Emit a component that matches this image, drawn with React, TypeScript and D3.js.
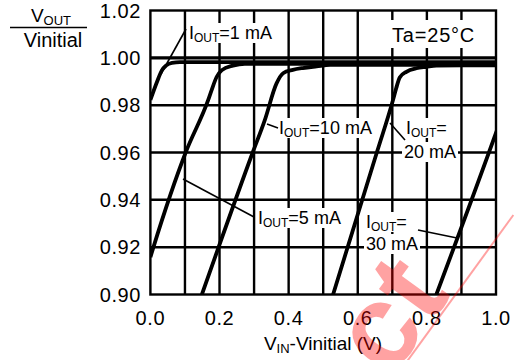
import React from "react";
import * as d3 from "d3";

// ---- data ----
const xTickValues = [0, 0.2, 0.4, 0.6, 0.8, 1.0];
const xTickLabels = ["0.0", "0.2", "0.4", "0.6", "0.8", "1.0"];
const yTickValues = [0.9, 0.92, 0.94, 0.96, 0.98, 1.0, 1.02];
const yTickLabels = ["0.90", "0.92", "0.94", "0.96", "0.98", "1.00", "1.02"];
const xGrid = [0.1, 0.2, 0.3, 0.4, 0.5, 0.6, 0.7, 0.8, 0.9];
const yGrid = [0.92, 0.94, 0.96, 0.98, 1.0];

const curve1mA: [number, number][] = [
  [0, 0.9822], [0.019, 0.9898], [0.0335, 0.9948], [0.045, 0.9967],
  [0.0624, 0.9979], [0.0856, 0.9982], [0.3, 0.9982], [1.0, 0.9982],
];
const curve5mA: [number, number][] = [
  [0, 0.9158], [0.0084, 0.9198], [0.1029, 0.9603], [0.1673, 0.9822],
  [0.1772, 0.9864], [0.1916, 0.9919], [0.2069, 0.9948], [0.2387, 0.9967],
  [0.2734, 0.9975], [0.4, 0.9975], [1.0, 0.9975],
];
const curve10mA: [number, number][] = [
  [0.149, 0.9], [0.2965, 0.9602], [0.331, 0.9737], [0.365, 0.9892],
  [0.384, 0.9935], [0.412, 0.9949], [0.441, 0.9957], [0.481, 0.9964],
  [0.52, 0.997], [0.7, 0.997], [1.0, 0.997],
];
const curve20mA: [number, number][] = [
  [0.5286, 0.9], [0.6558, 0.9603], [0.702, 0.9822], [0.7113, 0.9872],
  [0.7214, 0.9917], [0.7408, 0.9941], [0.7697, 0.9956], [0.7986, 0.9962],
  [0.8275, 0.9967], [0.9, 0.9968], [1.0, 0.9968],
];
const curve30mA: [number, number][] = [
  [0.8275, 0.9], [0.996, 0.9667], [1.02, 0.9765],
];
const seriesList = [curve1mA, curve5mA, curve10mA, curve20mA, curve30mA];

// ---- layout ----
const W = 514, H = 360;
const x = d3.scaleLinear().domain([0, 1]).range([150.4, 496]);
const y = d3.scaleLinear().domain([0.9, 1.02]).range([294.5, 10.5]);
const FONT = "'Liberation Sans', Arial, Helvetica, sans-serif";

const line = d3
  .line<[number, number]>()
  .x((d) => x(d[0]))
  .y((d) => y(d[1]))
  .curve(d3.curveMonotoneX);

type Lbl = { x: number; y: number; main: string; rest: string; bw: number };
const labels: Lbl[] = [
  { x: 189, y: 39, main: "I", rest: "=1 mA", bw: 92 },
  { x: 279, y: 134, main: "I", rest: "=10 mA", bw: 92 },
  { x: 406, y: 134, main: "I", rest: "=", bw: 56 },
  { x: 258, y: 224, main: "I", rest: "=5 mA", bw: 82 },
  { x: 366, y: 228, main: "I", rest: "=", bw: 56 },
];
const plainLabels = [
  { x: 404, y: 158, text: "20 mA", bw: 56 },
  { x: 366, y: 250, text: "30 mA", bw: 56 },
];
const leaders = [
  [186, 29, 161, 74],
  [267, 124, 278, 128],
  [390, 123, 405, 140],
  [183, 179, 254, 217],
  [418, 230, 457, 238],
];

export default function App() {
  const [x0, x1] = x.range();
  const [yb, yt] = y.range();
  return (
    <svg
      width={W}
      height={H}
      style={{ position: "absolute", left: 0, top: 0, background: "#fff" }}
      fontFamily={FONT}
    >
      <defs>
        <clipPath id="plot">
          <rect x={x0} y={yt} width={x1 - x0} height={yb - yt} />
        </clipPath>
      </defs>
      <rect width={W} height={H} fill="#fff" />
      {/* grid */}
      {xGrid.map((v) => (
        <line key={"vx" + v} x1={x(v)} x2={x(v)} y1={yt} y2={yb} stroke="#000" strokeWidth={2.4} />
      ))}
      {yGrid.map((v) => (
        <line key={"hy" + v} x1={x0} x2={x1} y1={y(v)} y2={y(v)} stroke="#000" strokeWidth={v === 1.0 ? 3.2 : 2.5} />
      ))}
      <rect x={x0} y={yt} width={x1 - x0} height={yb - yt} fill="none" stroke="#000" strokeWidth={2.4} />
      {/* curves */}
      <g clipPath="url(#plot)">
        {seriesList.map((s, i) => (
          <path key={i} d={line(s) || ""} fill="none" stroke="#000" strokeWidth={3.8} strokeLinejoin="round" />
        ))}
      </g>
      {/* Ta label */}
      <rect x={386} y={20} width={96} height={28} fill="#fff" />
      <text x={392} y={42} fontSize={20} letterSpacing={0.8}>Ta=25°C</text>
      {/* labels */}
      {labels.map((l, i) => (
        <g key={"l" + i}>
          <rect x={l.x - 2} y={l.y - 16} width={l.bw} height={20} fill="#fff" />
          <text x={l.x} y={l.y} fontSize={18}>
            {l.main}
            <tspan fontSize={12} dy={3}>OUT</tspan>
            <tspan fontSize={18} dy={-3}>{l.rest}</tspan>
          </text>
        </g>
      ))}
      {plainLabels.map((l, i) => (
        <g key={"p" + i}>
          <rect x={l.x - 2} y={l.y - 16} width={l.bw} height={20} fill="#fff" />
          <text x={l.x} y={l.y} fontSize={18}>{l.text}</text>
        </g>
      ))}
      {leaders.map((d, i) => (
        <line key={"ld" + i} x1={d[0]} y1={d[1]} x2={d[2]} y2={d[3]} stroke="#000" strokeWidth={1.6} />
      ))}
      {/* y ticks */}
      {yTickValues.map((v, i) => (
        <text key={"yt" + i} x={141} y={y(v) + 7} fontSize={20} textAnchor="end" letterSpacing={0.6}>
          {yTickLabels[i]}
        </text>
      ))}
      {xTickValues.map((v, i) => (
        <text key={"xt" + i} x={x(v)} y={325} fontSize={20} textAnchor="middle" letterSpacing={0.6}>
          {xTickLabels[i]}
        </text>
      ))}
      {/* axis titles */}
      <text x={323} y={350} fontSize={19} textAnchor="middle">
        V<tspan fontSize={13} dy={3}>IN</tspan>
        <tspan dy={-3}>-Vinitial (V)</tspan>
      </text>
      <text x={51} y={22} fontSize={19} textAnchor="middle">
        V<tspan fontSize={13} dy={3}>OUT</tspan>
      </text>
      <line x1={10} x2={87} y1={27.5} y2={27.5} stroke="#000" strokeWidth={1.6} />
      <text x={53} y={47} fontSize={20} textAnchor="middle">Vinitial</text>
      {/* watermark */}
      <g opacity={0.36} transform="translate(461,282) rotate(-54)">
        <text x={-121} y={0} fontSize={118} fontWeight="bold" fill="#ff0000">ct</text>
        <line x1={-245} x2={85} y1={3} y2={3} stroke="#ff0000" strokeWidth={2} />
      </g>
    </svg>
  );
}
